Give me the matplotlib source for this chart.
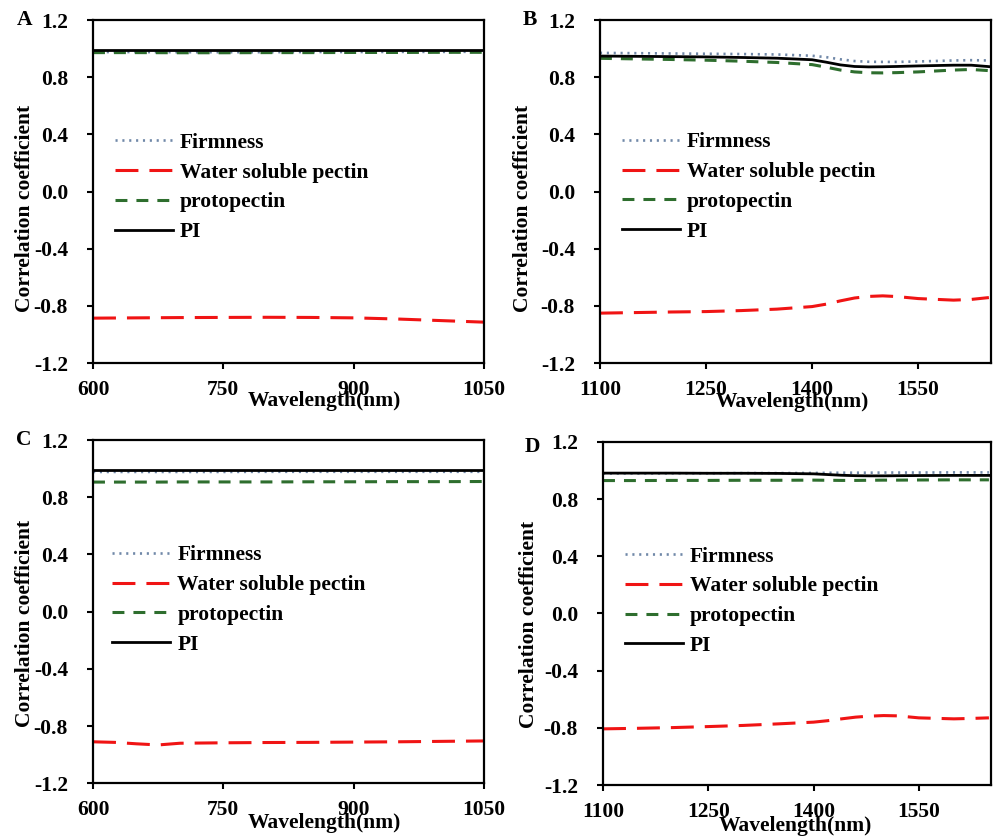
import numpy as np
import matplotlib
matplotlib.use("Agg")
import matplotlib.pyplot as plt
from matplotlib.ticker import FormatStrFormatter

# ---- data ----
labels = ["Firmness", "Water soluble pectin", "protopectin", "PI"]

wl_a = [600, 650, 700, 750, 800, 850, 900, 950, 1000, 1050]
firm_a = [0.976, 0.976, 0.975, 0.975, 0.975, 0.976, 0.976, 0.977, 0.977, 0.978]
wsp_a = [-0.886, -0.884, -0.882, -0.881, -0.880, -0.881, -0.884, -0.892, -0.903, -0.914]
proto_a = [0.972, 0.972, 0.971, 0.971, 0.972, 0.972, 0.973, 0.973, 0.974, 0.974]
pi_a = [0.991, 0.991, 0.991, 0.991, 0.991, 0.991, 0.991, 0.991, 0.991, 0.991]

wl_nir = [1100, 1150, 1200, 1250, 1300, 1350, 1400, 1420, 1440, 1460, 1480, 1500, 1520, 1550, 1600, 1625, 1650]
firm_b = [0.970, 0.968, 0.966, 0.964, 0.962, 0.959, 0.950, 0.940, 0.925, 0.913, 0.908, 0.907, 0.907, 0.910, 0.917, 0.919, 0.917]
wsp_b = [-0.851, -0.847, -0.843, -0.840, -0.833, -0.823, -0.805, -0.788, -0.765, -0.745, -0.734, -0.730, -0.735, -0.749, -0.760, -0.755, -0.742]
proto_b = [0.932, 0.928, 0.924, 0.919, 0.912, 0.903, 0.888, 0.870, 0.850, 0.837, 0.831, 0.830, 0.832, 0.837, 0.850, 0.854, 0.846]
pi_b = [0.948, 0.946, 0.944, 0.942, 0.938, 0.933, 0.922, 0.905, 0.886, 0.875, 0.872, 0.873, 0.875, 0.879, 0.884, 0.884, 0.874]

wl_c = [600, 625, 650, 675, 700, 750, 800, 850, 900, 950, 1000, 1050]
firm_c = [0.977, 0.977, 0.977, 0.977, 0.977, 0.977, 0.978, 0.978, 0.978, 0.978, 0.978, 0.978]
wsp_c = [-0.910, -0.914, -0.924, -0.932, -0.920, -0.917, -0.915, -0.914, -0.912, -0.910, -0.907, -0.904]
proto_c = [0.906, 0.906, 0.906, 0.906, 0.907, 0.907, 0.907, 0.908, 0.908, 0.909, 0.909, 0.910]
pi_c = [0.990, 0.990, 0.990, 0.990, 0.990, 0.990, 0.990, 0.990, 0.990, 0.990, 0.990, 0.990]

firm_d = [0.980, 0.980, 0.981, 0.981, 0.982, 0.982, 0.983, 0.984, 0.985, 0.985, 0.985, 0.986, 0.986, 0.986, 0.987, 0.987, 0.987]
wsp_d = [-0.807, -0.803, -0.798, -0.791, -0.783, -0.772, -0.760, -0.750, -0.737, -0.725, -0.718, -0.714, -0.716, -0.730, -0.737, -0.734, -0.730]
proto_d = [0.930, 0.930, 0.931, 0.931, 0.932, 0.932, 0.933, 0.932, 0.931, 0.931, 0.932, 0.933, 0.933, 0.934, 0.935, 0.935, 0.935]
pi_d = [0.982, 0.982, 0.982, 0.981, 0.981, 0.980, 0.977, 0.972, 0.967, 0.964, 0.963, 0.963, 0.964, 0.965, 0.966, 0.966, 0.966]

vis_ticks = [600, 750, 900, 1050]
nir_ticks = [1100, 1250, 1400, 1550]
y_ticks = [-1.2, -0.8, -0.4, 0.0, 0.4, 0.8, 1.2]

plt.rcParams["font.family"] = ["Liberation Serif", "DejaVu Serif"]
plt.rcParams["font.weight"] = "bold"
plt.rcParams["axes.labelweight"] = "bold"
plt.rcParams["font.size"] = 15.5
plt.rcParams["axes.unicode_minus"] = False


def draw_panel(ax, wl, firm, wsp, proto, pi, xlim, xticks, letter, letter_xy,
               xlab_xy, ylab_xy, leg_xy):
    ax.plot(wl, firm, color="#7088a8", lw=1.9, dashes=(0.8, 1.8), label=labels[0])
    ax.plot(wl, wsp, color="#f01414", lw=2.2, dashes=(7.5, 3.6), label=labels[1])
    ax.plot(wl, proto, color="#2e6e2e", lw=2.2, dashes=(3.9, 2.95), label=labels[2])
    ax.plot(wl, pi, color="black", lw=2.0, label=labels[3])

    ax.set_xlim(xlim)
    ax.set_ylim(-1.2, 1.2)
    ax.set_xticks(xticks)
    ax.set_yticks(y_ticks)
    ax.yaxis.set_major_formatter(FormatStrFormatter("%.1f"))
    for s in ax.spines.values():
        s.set_linewidth(1.6)
    ax.tick_params(axis="both", direction="out", length=4, width=1.5)
    ax.tick_params(axis="y", pad=14)
    ax.tick_params(axis="x", pad=8)

    ax.set_xlabel("Wavelength(nm)", va="center")
    ax.xaxis.set_label_coords(*xlab_xy)
    ax.set_ylabel("Correlation coefficient", va="center")
    ax.yaxis.set_label_coords(*ylab_xy)

    ax.legend(loc="center left", bbox_to_anchor=leg_xy, frameon=False,
              borderpad=0, borderaxespad=0, handlelength=2.7,
              handletextpad=0.33, labelspacing=0.45)
    fig.text(letter_xy[0], letter_xy[1], letter, ha="center", va="center")


fig = plt.figure(figsize=(9.93, 8.38), dpi=100)

ax_a = fig.add_axes([0.0937, 0.5668, 0.3937, 0.4093])
ax_b = fig.add_axes([0.6042, 0.5668, 0.3938, 0.4093])
ax_c = fig.add_axes([0.0937, 0.0653, 0.3937, 0.4096])
ax_d = fig.add_axes([0.6073, 0.0632, 0.3907, 0.4094])

draw_panel(ax_a, wl_a, firm_a, wsp_a, proto_a, pi_a, (600, 1050), vis_ticks,
           "A", (0.0252, 0.976), (0.593, -0.11), (-0.174, 0.452), (0.056, 0.512))
draw_panel(ax_b, wl_nir, firm_b, wsp_b, proto_b, pi_b, (1100, 1653), nir_ticks,
           "B", (0.534, 0.976), (0.491, -0.115), (-0.197, 0.452), (0.056, 0.513))
draw_panel(ax_c, wl_c, firm_c, wsp_c, proto_c, pi_c, (600, 1050), vis_ticks,
           "C", (0.0242, 0.475), (0.593, -0.115), (-0.174, 0.466), (0.049, 0.534))
draw_panel(ax_d, wl_nir, firm_d, wsp_d, proto_d, pi_d, (1100, 1653), nir_ticks,
           "D", (0.536, 0.467), (0.495, -0.118), (-0.192, 0.469), (0.056, 0.536))

fig.savefig("out.png", dpi=100)
